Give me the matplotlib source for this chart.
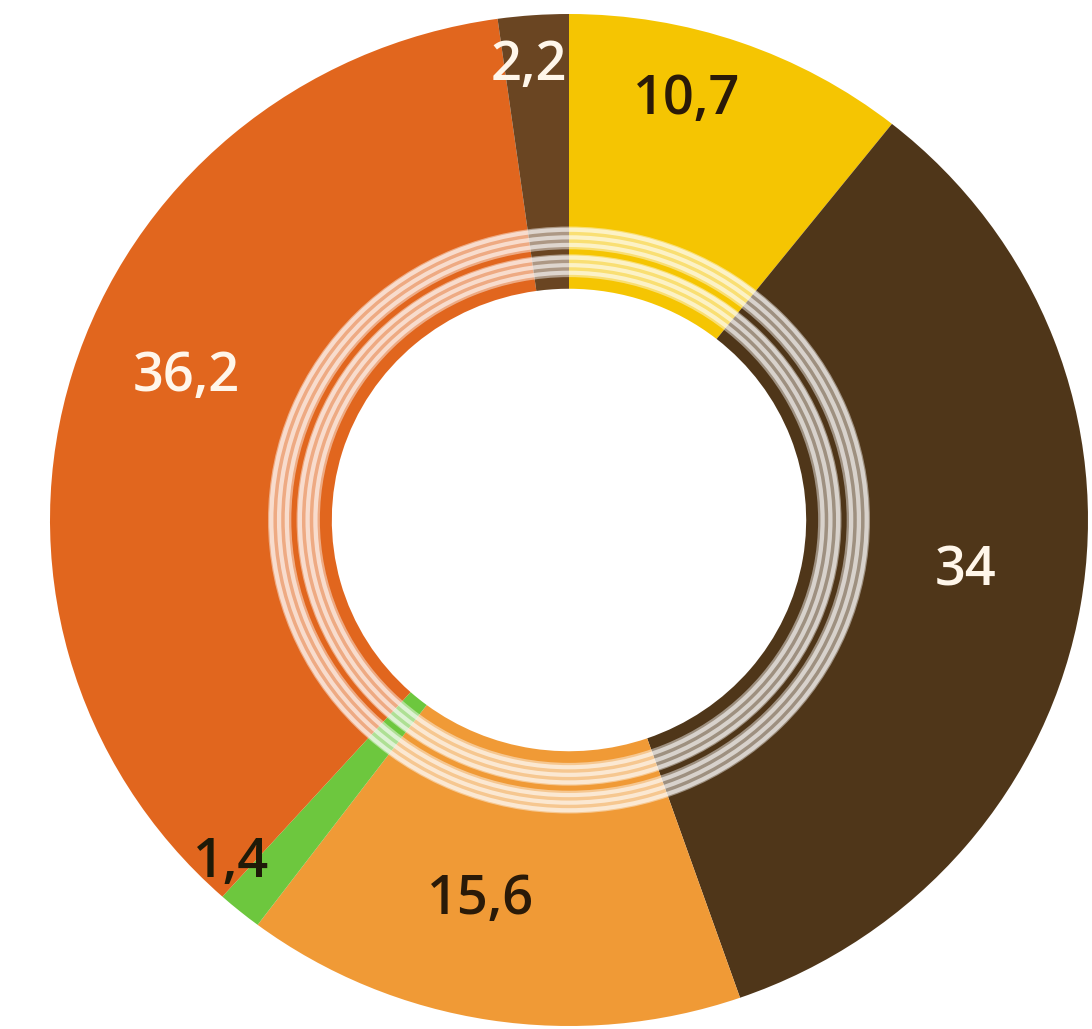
import numpy as np
import matplotlib.pyplot as plt
from matplotlib.patches import Wedge

values = [10.7, 34, 15.6, 1.4, 36.2, 2.2]
labels = ["10,7", "34", "15,6", "1,4", "36,2", "2,2"]
colors = ["#F5C502", "#4F3619", "#F09A36", "#6DC73E", "#E1661E", "#6A4522"]
text_colors = ["#2A1A08", "#FFF6EA", "#2A1A08", "#1E1A08", "#FFF6EA", "#FFF6EA"]
label_r = [0.86, 0.77, 0.77, 0.94, 0.79, 0.90]
label_shift = [4, 2, -4, -4.5, -4, 1]  # degrees, nudges off the mid-angle

plt.rcParams['font.family'] = ['Open Sans', 'DejaVu Sans']

fig = plt.figure(figsize=(10.92, 10.29), dpi=100)
ax = fig.add_axes([0, 0, 1, 1])

wedges, _ = ax.pie(values, colors=colors, startangle=90, counterclock=False,
                   radius=1, wedgeprops=dict(width=1 - 0.457, linewidth=0))

# decorative translucent rings
for r_out, r_in in [(0.58, 0.535), (0.525, 0.48)]:
    ax.add_patch(Wedge((0, 0), r_out, 0, 360, width=r_out - r_in,
                       facecolor='white', alpha=0.45, linewidth=0))
    for k in range(3):
        w = (r_out - r_in) / 3
        ax.add_patch(Wedge((0, 0), r_out - k * w - w * 0.15, 0, 360, width=w * 0.55,
                           facecolor='white', alpha=0.6, linewidth=0))

for w, lab, tc, lr, sh in zip(wedges, labels, text_colors, label_r, label_shift):
    mid = np.deg2rad((w.theta1 + w.theta2) / 2 + sh)
    ax.text(lr * np.cos(mid), lr * np.sin(mid), lab, ha='center', va='center',
            fontsize=39, color=tc, fontweight='semibold')

# pie is slightly wider than tall in the reference
cx, cy, rx, ry = 569, 520, 519, 506
ax.set_aspect('auto')
ax.set_xlim(-cx / rx, (1092 - cx) / rx)
ax.set_ylim(-(1029 - cy) / ry, cy / ry)
ax.axis('off')

fig.savefig("out.png", dpi=100)
